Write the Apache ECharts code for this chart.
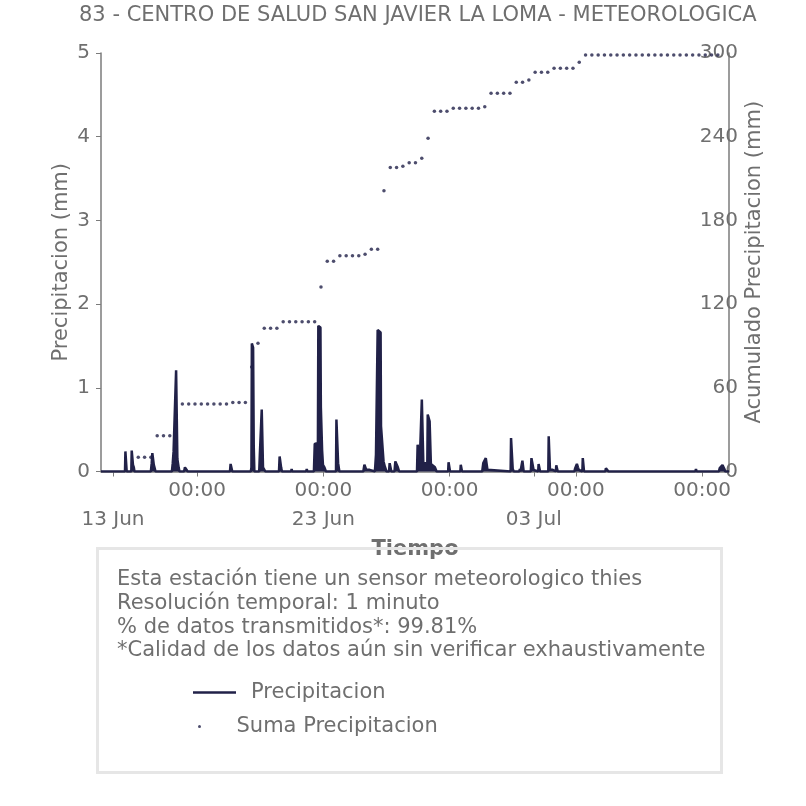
<!DOCTYPE html>
<html><head><meta charset="utf-8">
<script src="https://cdn.jsdelivr.net/npm/echarts@6/dist/echarts.min.js"></script>
<style>html,body{margin:0;padding:0;background:#fff}#c{width:806px;height:806px}</style>
</head><body><div id="c"></div>
<script>
// time unit: days since 13 Jun 00:00
const titleText = '83 - CENTRO DE SALUD SAN JAVIER LA LOMA - METEOROLOGICA';
const xTickDays = [0, 4, 10, 16, 20, 22, 28];
const xTickLabels = ['\n13 Jun', '00:00', '00:00\n23 Jun', '00:00', '\n03 Jul', '00:00', '00:00'];
const xMin = -0.57, xMax = 29.28;

// Precipitacion (mm), 1-minute series: [day, value]
const precipitacion = [
 [-0.57,0],
 [0.03,0],[0.05,0.01],[0.07,0],
 [0.57,0],[0.59,0.24],[0.63,0.24],[0.65,0],
 [0.87,0],[0.89,0.25],[0.93,0.25],[0.95,0.08],[0.99,0.05],[1.02,0],
 [1.40,0],[1.43,0.02],[1.46,0],
 [1.80,0],[1.84,0.1],[1.87,0.22],[1.91,0.2],[1.94,0.08],[1.98,0.04],[2.02,0],
 [2.80,0],[2.84,0.1],[2.88,0.24],[2.97,0.24],[3.00,1.21],[3.04,1.21],[3.06,0.15],[3.12,0.05],[3.16,0],
 [3.38,0],[3.42,0.05],[3.50,0.03],[3.55,0],
 [5.56,0],[5.59,0.09],[5.64,0.09],[5.67,0],
 [6.55,0],[6.58,0.05],[6.60,1.53],[6.66,1.48],[6.69,0.3],[6.72,0],
 [6.95,0],[6.98,0.2],[7.05,0.2],[7.07,0.74],[7.11,0.74],[7.13,0.05],[7.20,0.03],[7.24,0],
 [7.89,0],[7.92,0.18],[7.97,0.18],[7.99,0.05],[8.03,0],
 [8.47,0],[8.49,0.03],[8.52,0],
 [9.18,0],[9.21,0.03],[9.24,0],
 [9.55,0],[9.59,0.33],[9.74,0.34],[9.76,1.74],[9.86,1.72],[9.88,0.77],[9.94,0.25],[9.98,0.08],[10.05,0.05],[10.12,0],
 [10.60,0],[10.62,0.62],[10.68,0.6],[10.70,0.1],[10.76,0],
 [11.01,0],[11.03,0.01],[11.05,0],
 [11.55,0],[11.58,0.02],[11.61,0],
 [11.90,0],[11.95,0.08],[12.00,0.08],[12.04,0.02],[12.12,0.03],[12.20,0.02],[12.28,0],
 [12.45,0],[12.50,0.2],[12.56,0.2],[12.58,1.69],[12.72,1.66],[12.74,0.54],[12.83,0.52],[12.86,0.12],[12.92,0.06],[13.00,0],
 [13.12,0],[13.15,0.1],[13.20,0.1],[13.23,0],
 [13.38,0],[13.42,0.12],[13.48,0.1],[13.54,0.05],[13.60,0],
 [14.45,0],[14.48,0.32],[14.55,0.32],[14.58,0.1],[14.66,0.1],[14.68,0.86],[14.73,0.86],[14.75,0.1],[14.94,0.1],[14.96,0.68],[15.02,0.68],[15.05,0.6],[15.09,0.6],[15.11,0.09],[15.20,0.08],[15.30,0.05],[15.38,0],
 [15.93,0],[15.95,0.11],[16.00,0.11],[16.02,0],
 [16.51,0],[16.53,0.08],[16.57,0.08],[16.59,0],
 [16.86,0],[16.89,0.01],[16.92,0],
 [17.55,0],[17.60,0.1],[17.68,0.11],[17.72,0.16],[17.78,0.16],[17.80,0.02],[17.84,0],
 [18.90,0],[18.92,0.4],[18.98,0.4],[19.00,0.03],[19.05,0],
 [19.31,0],[19.34,0.03],[19.37,0],
 [19.44,0],[19.46,0.13],[19.50,0.13],[19.52,0],
 [19.86,0],[19.89,0.16],[19.96,0.16],[19.99,0.02],[20.03,0],
 [20.21,0],[20.23,0.09],[20.28,0.09],[20.30,0],
 [20.69,0],[20.71,0.42],[20.75,0.42],[20.77,0.02],[20.90,0.02],[20.93,0],
 [21.05,0],[21.07,0.075],[21.12,0.075],[21.14,0],
 [21.35,0],[21.37,0.01],[21.40,0],
 [21.93,0],[21.97,0.04],[22.02,0.05],[22.05,0.09],[22.10,0.05],[22.14,0.02],[22.18,0],
 [22.31,0],[22.33,0.16],[22.37,0.16],[22.39,0],
 [22.80,0],[22.83,0.02],[22.86,0],
 [23.40,0],[23.43,0.04],[23.50,0.035],[23.55,0],
 [27.68,0],[27.71,0.03],[27.74,0],
 [28.80,0],[28.84,0.04],[28.92,0.05],[28.97,0.077],[29.02,0.077],[29.06,0.03],[29.10,0],
 [29.28,0]
];

// Suma Precipitacion (mm)
const sumTime = [1.202,1.502,1.801,2.101,2.400,2.700,2.999,3.298,3.598,3.897,4.197,4.496,4.796,5.095,5.394,5.694,5.993,6.293,6.592,6.892,
 7.191,7.490,7.790,8.089,8.389,8.688,8.988,9.287,9.586,9.886,10.185,10.485,10.784,11.084,11.383,11.682,11.982,12.281,12.581,12.880,
 13.180,13.479,13.778,14.078,14.377,14.677,14.976,15.276,15.575,15.874,16.174,16.473,16.773,17.072,17.372,17.671,17.970,18.270,18.569,18.869,
 19.168,19.468,19.767,20.066,20.366,20.665,20.965,21.264,21.564,21.863,22.162,22.462,22.761,23.061,23.360,23.660,23.959,24.258,24.558,24.857,
 25.157,25.456,25.756,26.055,26.354,26.654,26.953,27.253,27.552,27.852,28.151,28.450,28.750];
const sumValue = [10.2,10.2,10.2,25.7,25.7,25.7,35,48.4,48.4,48.4,48.4,48.4,48.4,48.4,48.4,49.5,49.5,49.5,75,91.9,
 102.6,102.6,102.6,107.4,107.4,107.4,107.4,107.4,107.4,132.3,150.7,150.7,154.7,154.7,154.7,154.7,155.7,159.3,159.3,201.3,
 218,218,218.8,221.4,221.4,224.5,238.8,258.2,258.2,258.2,260.4,260.4,260.4,260.4,260.4,261.5,271.1,271.1,271.1,271.1,
 279,279,280.6,286.2,286.2,286.2,289,289,289,289,293.3,298.6,298.6,298.6,298.6,298.6,298.6,298.6,298.6,298.6,
 298.6,298.6,298.6,298.6,298.6,298.6,298.6,298.6,298.6,298.6,298.6,298.6,298.6];

const infoLines = [
 'Esta estación tiene un sensor meteorologico thies',
 'Resolución temporal: 1 minuto',
 '% de datos transmitidos*: 99.81%',
 '*Calidad de los datos aún sin verificar exhaustivamente'
];

const FONT = 'DejaVu Sans';
const GRAY = '#6f6f6f';
const AXIS = '#7b7b7b';
const NAVY = '#212148';

const chart = echarts.init(document.getElementById('c'));
chart.setOption({
  animation: false,
  backgroundColor: '#ffffff',
  textStyle: { fontFamily: FONT },
  title: { text: titleText, left: 79, top: 5, padding: 0, textStyle: { fontFamily: FONT, fontSize: 21, fontWeight: 'normal', color: GRAY } },
  grid: { left: 101, right: 77, top: 53, bottom: 334.5, containLabel: false },
  xAxis: {
    type: 'value', min: xMin, max: xMax,
    name: 'Tiempo', nameLocation: 'middle', nameGap: 61,
    nameTextStyle: { fontFamily: FONT, fontSize: 21, fontWeight: 'bold', color: GRAY },
    axisLine: { show: true, onZero: false, lineStyle: { color: AXIS, width: 1.5 } },
    axisTick: { show: true, length: 5, lineStyle: { color: AXIS }, customValues: xTickDays },
    axisLabel: {
      customValues: xTickDays, margin: 5, fontFamily: FONT, fontSize: 20, color: GRAY, lineHeight: 29,
      showMinLabel: true, showMaxLabel: true,
      formatter: function (v) { const i = xTickDays.indexOf(Math.round(v * 1000) / 1000); return i >= 0 ? xTickLabels[i] : ''; }
    },
    splitLine: { show: false }
  },
  yAxis: [
    {
      type: 'value', min: 0, max: 5, interval: 1, position: 'left',
      name: 'Precipitacion (mm)', nameLocation: 'middle', nameGap: 29, nameMoveOverlap: false,
      nameTextStyle: { fontFamily: FONT, fontSize: 21, color: GRAY },
      axisLine: { show: true, onZero: false, lineStyle: { color: AXIS, width: 1.5 } },
      axisTick: { show: true, length: 5, lineStyle: { color: AXIS } },
      axisLabel: { margin: 11, fontFamily: FONT, fontSize: 20, color: GRAY },
      splitLine: { show: false }
    },
    {
      type: 'value', min: 0, max: 300, interval: 60, position: 'right',
      name: 'Acumulado Precipitacion (mm)', nameLocation: 'middle', nameGap: 15, nameMoveOverlap: false,
      nameTextStyle: { fontFamily: FONT, fontSize: 21, color: GRAY },
      axisLine: { show: true, onZero: false, lineStyle: { color: AXIS, width: 1.5 } },
      axisTick: { show: false },
      axisLabel: { inside: true, margin: -9, fontFamily: FONT, fontSize: 20, color: GRAY },
      splitLine: { show: false }
    }
  ],
  legend: [
    { data: [{ name: 'Precipitacion', icon: 'rect' }], left: 193, top: 682, padding: 0, itemWidth: 43, itemHeight: 2.5, selectedMode: false,
      textStyle: { fontFamily: FONT, fontSize: 21, color: GRAY, padding: [0, 0, 0, 10] } },
    { data: [{ name: 'Suma Precipitacion', icon: 'circle' }], left: 198, top: 716, padding: 0, itemWidth: 14, itemHeight: 3, selectedMode: false,
      textStyle: { fontFamily: FONT, fontSize: 21, color: GRAY, padding: [0, 0, 0, 25] } }
  ],
  graphic: [
    { type: 'rect', z: 100, shape: { x: 97.5, y: 548.5, width: 624, height: 224 }, style: { fill: 'none', stroke: '#e6e6e6', lineWidth: 3 } },
    { type: 'text', z: 100, left: 117, top: 568, style: { text: infoLines.join('\n'), fontFamily: FONT, fontSize: 21, fill: GRAY, lineHeight: 23.7 } }
  ],
  series: [
    {
      name: 'Precipitacion', type: 'line', xAxisIndex: 0, yAxisIndex: 0,
      data: precipitacion, showSymbol: false, symbol: 'none', sampling: null,
      lineStyle: { color: NAVY, width: 2.5 }, itemStyle: { color: NAVY },
      areaStyle: { color: NAVY, opacity: 1 }, z: 2
    },
    {
      name: 'Suma Precipitacion', type: 'scatter', xAxisIndex: 0, yAxisIndex: 1,
      data: sumTime.map((t, i) => [t, sumValue[i]]), symbolSize: 3.5,
      itemStyle: { color: NAVY }, z: 3
    }
  ]
});
</script>
</body></html>
